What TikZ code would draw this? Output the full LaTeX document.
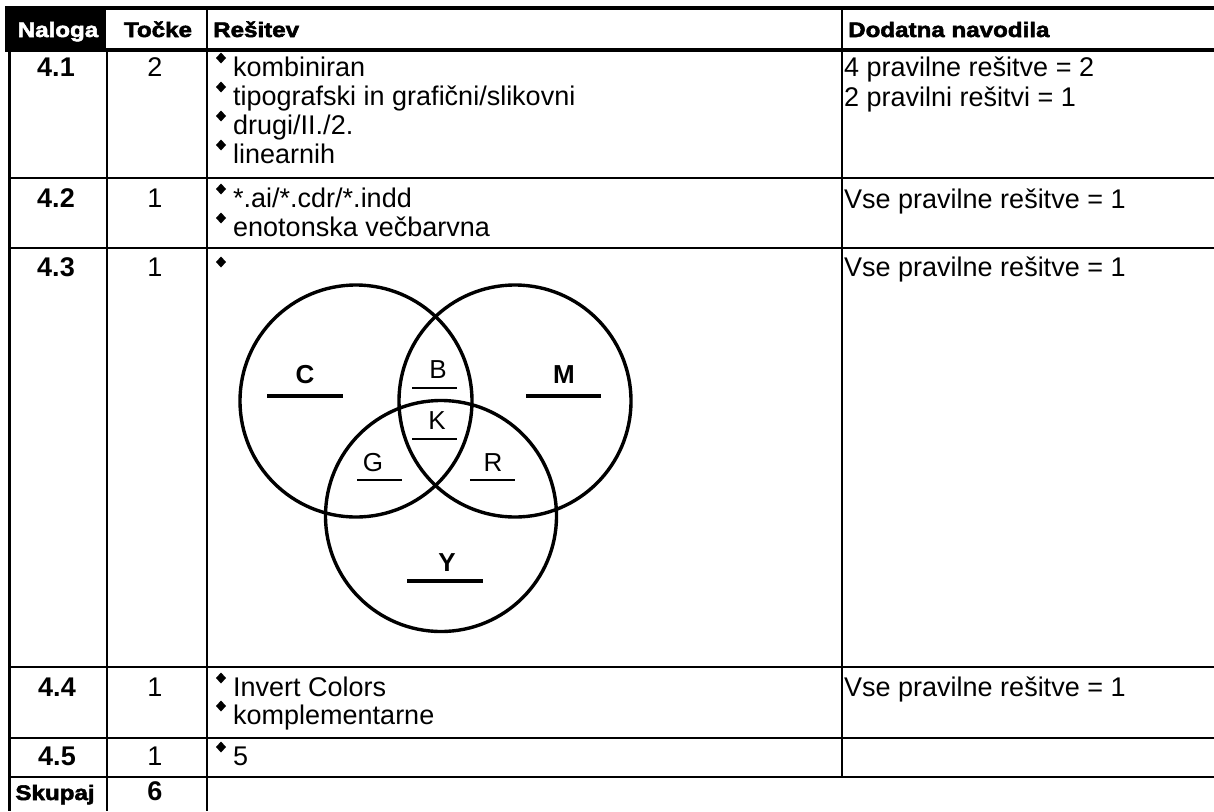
\documentclass[tikz,border=0pt]{standalone}
\usepackage{fontspec}
\setmainfont{Liberation Sans}
\newfontfamily\hdrfont[FakeStretch=1.15,FakeBold=2.6]{Liberation Sans}
\tikzset{
  txt/.style={anchor=base west, inner sep=0pt, font=\fontsize{27}{30}\selectfont},
  num/.style={anchor=base, inner sep=0pt, font=\fontsize{27}{30}\selectfont\bfseries},
  pts/.style={anchor=base, inner sep=0pt, font=\fontsize{27}{30}\selectfont},
  hdr/.style={anchor=base, inner sep=0pt, font=\hdrfont\bfseries\fontsize{21}{24}\selectfont},
  thinrule/.style={line width=2pt},
  heavyrule/.style={line width=3.2pt},
  venn/.style={line width=3.4pt},
  lbl/.style={anchor=center, inner sep=0pt, font=\fontsize{26}{30}\selectfont},
  blbl/.style={anchor=center, inner sep=0pt, font=\fontsize{26}{30}\selectfont\bfseries},
}
\newcommand\blt[1]{\fill (216,{#1-18}) -- ++(5,5.5) -- ++(5,-5.5) -- ++(-5,-5.5) -- cycle;}
\begin{document}
\begin{tikzpicture}[x=1pt,y=-1pt]
\useasboundingbox (0,0) rectangle (1214,811);
% header background
\fill[black] (5,7) rectangle (106,50);
% rules
\draw[heavyrule] (5,8) -- (1214,8);
\draw[heavyrule] (5,50) -- (1214,50);
\draw[thinrule] (9,178) -- (1214,178);
\draw[thinrule] (9,248) -- (1214,248);
\draw[thinrule] (9,667) -- (1214,667);
\draw[thinrule] (9,738) -- (1214,738);
\draw[thinrule] (9,777) -- (1214,777);
\draw[heavyrule] (9.5,7) -- (9.5,811);
\draw[thinrule] (107,50) -- (107,811);
\draw[thinrule] (207,7) -- (207,811);
\draw[thinrule] (842,7) -- (842,777);
% header
\node[hdr, text=white] (hNaloga) at (58,37) {Naloga};
\node[hdr] (hTocke) at (158,37) {Točke};
\node[hdr, anchor=base west] (hResitev) at (213,37) {Rešitev};
\node[hdr, anchor=base west] (hDodatna) at (848,37) {Dodatna navodila};
% row 4.1
\node[num] (n41) at (56,76) {4.1};
\node[pts] (p41) at (155,76) {2};
\blt{76}\node[txt] (r41a) at (233,76) {kombiniran};
\blt{105}\node[txt] (r41b) at (233,105) {tipografski in grafični/slikovni};
\blt{134}\node[txt] (r41c) at (233,134) {drugi/II./2.};
\blt{163}\node[txt] (r41d) at (233,163) {linearnih};
\node[txt] (d41a) at (844,76) {4 pravilne rešitve = 2};
\node[txt] (d41b) at (844,106) {2 pravilni rešitvi = 1};
% row 4.2
\node[num] (n42) at (56,207) {4.2};
\node[pts] (p42) at (155,207) {1};
\blt{207}\node[txt] (r42a) at (233,207) {*.ai/*.cdr/*.indd};
\blt{236}\node[txt] (r42b) at (233,236) {enotonska večbarvna};
\node[txt] (d42) at (844,208) {Vse pravilne rešitve = 1};
% row 4.3
\node[num] (n43) at (56,276) {4.3};
\node[pts] (p43) at (155,276) {1};
\blt{280}
\node[txt] (d43) at (844,276) {Vse pravilne rešitve = 1};
% venn
\coordinate (cC) at (356,401);
\coordinate (cM) at (515,401);
\coordinate (cY) at (441,516);
\draw[venn] (cC) circle[radius=116];
\draw[venn] (cM) circle[radius=116];
\draw[venn] (cY) circle[radius=115.5];
\node[blbl] (lC) at (305,375) {C};
\draw[line width=3.2pt] (267,396) -- (343,396);
\node[blbl] (lM) at (564,375) {M};
\draw[line width=3.2pt] (526,396) -- (601,396);
\node[blbl] (lY) at (447,563) {Y};
\draw[line width=3.2pt] (407,581) -- (483,581);
\node[lbl] (lB) at (438,370) {B};
\draw[line width=1.4pt] (412,388) -- (457,388);
\node[lbl] (lK) at (437,421) {K};
\draw[line width=1.4pt] (412,439) -- (457,439);
\node[lbl] (lG) at (373,463) {G};
\draw[line width=1.4pt] (357,480) -- (402,480);
\node[lbl] (lR) at (493,463) {R};
\draw[line width=1.4pt] (470,480) -- (515,480);
% row 4.4
\node[num] (n44) at (57,696) {4.4};
\node[pts] (p44) at (155,696) {1};
\blt{696}\node[txt] (r44a) at (233,696) {Invert Colors};
\blt{724}\node[txt] (r44b) at (233,724) {komplementarne};
\node[txt] (d44) at (844,696) {Vse pravilne rešitve = 1};
% row 4.5
\node[num] (n45) at (57,765) {4.5};
\node[pts] (p45) at (155,765) {1};
\blt{765}\node[txt] (r45) at (233,765) {5};
% total
\node[hdr] (hSkupaj) at (55,800) {Skupaj};
\node[num] (p6) at (155,800) {6};
\end{tikzpicture}
\end{document}
